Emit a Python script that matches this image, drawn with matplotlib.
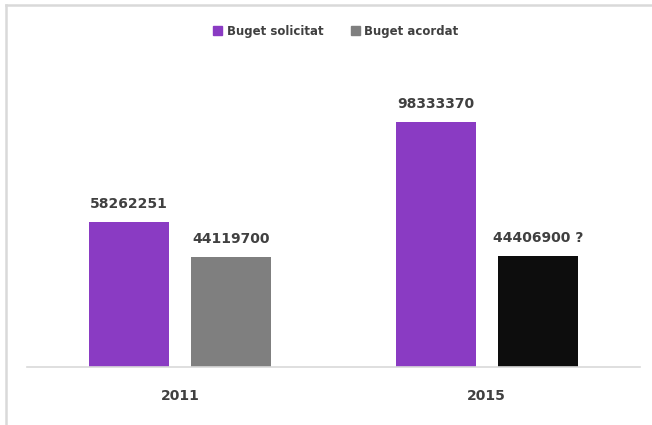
import matplotlib.pyplot as plt
import numpy as np
from matplotlib.lines import Line2D
from matplotlib.patches import Patch

years = ["2011", "2015"]
solicitat = [58262251, 98333370]
acordat = [44119700, 44406900]
solicitat_labels = ["58262251", "98333370"]
acordat_labels = ["44119700", "44406900 ?"]
acordat_colors = ["#7f7f7f", "#0d0d0d"]

purple = "#8a3bc3"
text_color = "#404040"
plt.rcParams["font.family"] = ["DejaVu Sans"]

fig = plt.figure(figsize=(6.52, 4.25), dpi=100)
W, H = 652, 425
ax = fig.add_axes([27 / W, 1 - 367 / H, (640 - 27) / W, (367 - 55) / H])

x = np.arange(len(years))
width = 0.261
offset = 0.167
bars1 = ax.bar(x - offset, solicitat, width, color=purple)
bars2 = ax.bar(x + offset, acordat, width, color=acordat_colors)

for bar, lab in zip(bars1, solicitat_labels):
    ax.annotate(lab, (bar.get_x() + bar.get_width() / 2, bar.get_height()),
                xytext=(0, 8), textcoords="offset points", ha="center", va="bottom",
                fontsize=10, fontweight="bold", color=text_color)
for bar, lab in zip(bars2, acordat_labels):
    ax.annotate(lab, (bar.get_x() + bar.get_width() / 2, bar.get_height()),
                xytext=(0, 8), textcoords="offset points", ha="center", va="bottom",
                fontsize=10, fontweight="bold", color=text_color)

ax.set_xlim(-0.5, 1.5)
ax.set_ylim(0, 98333370 * (367 - 55) / 245)
ax.set_xticks(x)
ax.set_xticklabels(years, fontsize=10, fontweight="bold", color=text_color)
ax.tick_params(axis="x", length=0, pad=16)
ax.set_yticks([])
for side in ["top", "right", "left"]:
    ax.spines[side].set_visible(False)
ax.spines["bottom"].set_color("#d9d9d9")
ax.spines["bottom"].set_linewidth(1.2)

handles = [Patch(color=purple), Patch(color="#7f7f7f")]
fig.legend(handles, ["Buget solicitat", "Buget acordat"], loc="center",
           bbox_to_anchor=(336 / W, 1 - 31 / H), ncol=2, frameon=False,
           handlelength=0.75, handleheight=0.75, handletextpad=0.4, columnspacing=2.3,
           prop={"size": 8.5, "weight": "bold"}, labelcolor=text_color)

# figure frame (top and left edges only)
fig.add_artist(Line2D([5.5 / W, 5.5 / W], [0, 1 - 4.5 / H], transform=fig.transFigure,
                      color="#d9d9d9", linewidth=1.8))
fig.add_artist(Line2D([5.5 / W, 1], [1 - 4.5 / H, 1 - 4.5 / H], transform=fig.transFigure,
                      color="#d9d9d9", linewidth=1.8))

fig.savefig("out.png", dpi=100)
